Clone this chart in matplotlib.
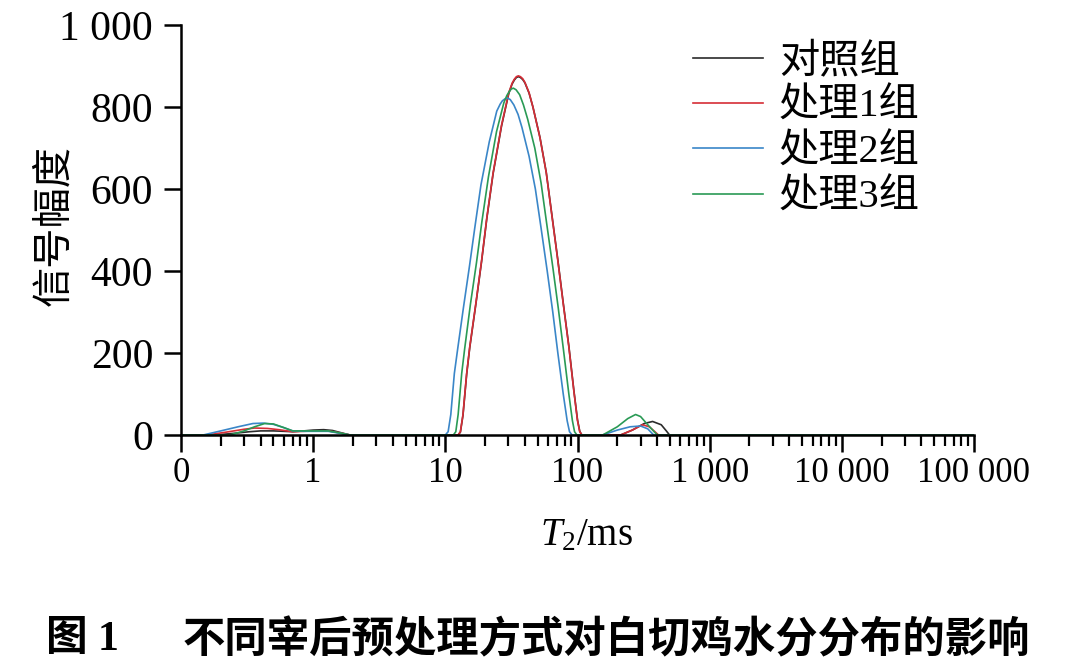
import matplotlib
matplotlib.use("Agg")
import matplotlib.pyplot as plt
from matplotlib.ticker import LogLocator, NullFormatter, FixedLocator, FixedFormatter

plt.rcParams['font.family'] = ['Liberation Serif', 'Noto Sans CJK SC', 'DejaVu Sans']
plt.rcParams['mathtext.fontset'] = 'custom'
plt.rcParams['mathtext.rm'] = 'Liberation Serif'
plt.rcParams['mathtext.it'] = 'Liberation Serif:italic'

# ---------------- data ----------------
labels = ['对照组', '处理1组', '处理2组', '处理3组']
colors = ['#2b2b2b', '#d62d36', '#3a86c8', '#2a9a55']

t2_ctrl = [0.1, 0.18, 0.25, 0.33, 0.4, 0.5, 0.6, 0.7, 0.85, 1.0, 1.2, 1.4, 1.65, 1.9,
           12.5, 13.0, 13.6, 14.5, 15.3, 17.0, 18.8, 20.6, 23.0, 26.6, 30.2, 32.0, 33.3,
           34.5, 35.7, 37.0, 38.5, 40.0, 43.0, 46.0, 52.0, 58.0, 64.0, 71.0, 78.0, 86.0,
           94.0, 100.0, 104.0, 108.0,
           212, 260, 320, 370, 430, 470, 497, 100000]
amp_ctrl = [0, 0, 4, 8, 10, 10, 9, 8, 10, 12, 13, 11, 5, 0,
            0, 7, 48, 148, 213, 318, 423, 528, 638, 753, 833, 856, 866,
            872, 874, 872, 867, 859, 834, 800, 726, 641, 537, 427, 322, 217,
            107, 37, 9, 0,
            0, 12, 28, 33, 25, 10, 0, 0]

t2_t1 = [0.1, 0.157, 0.22, 0.3, 0.36, 0.45, 0.55, 0.7, 0.85, 1.0, 1.3, 1.6, 1.9,
         12.5, 13.0, 13.6, 14.5, 15.3, 17.0, 18.8, 20.6, 23.0, 26.6, 30.2, 32.0, 33.3,
         34.5, 35.7, 37.0, 38.5, 40.0, 43.0, 46.0, 52.0, 58.0, 64.0, 71.0, 78.0, 86.0,
         94.0, 100.0, 104.0, 108.0,
         212, 260, 310, 350, 385, 410, 100000]
amp_t1 = [0, 0, 7, 14, 17, 16, 13, 8, 9, 10, 10, 5, 0,
          0, 8, 50, 150, 215, 320, 425, 530, 640, 755, 835, 858, 868,
          874, 876, 874, 869, 860, 835, 800, 725, 640, 535, 425, 320, 215,
          105, 35, 8, 0,
          0, 12, 25, 20, 8, 0, 0]

t2_t2 = [0.1, 0.147, 0.2, 0.27, 0.35, 0.42, 0.5, 0.6, 0.7, 0.85, 1.0, 1.3, 1.6, 1.9,
         10.0, 10.5, 11.0, 11.7, 12.4, 13.7, 15.2, 16.7, 18.6, 21.5, 24.5, 26.0, 27.0,
         28.3, 29.5, 31.0, 33.0, 35.5, 38.0, 43.0, 48.0, 53.0, 59.0, 65.0, 71.0, 78.0,
         83.5, 87.0, 91.0,
         155, 200, 250, 300, 340, 377, 100000]
amp_t2 = [0, 0, 10, 20, 28, 29, 26, 18, 10, 9, 9, 9, 4, 0,
          0, 8, 50, 150, 210, 310, 410, 505, 610, 715, 790, 807, 815,
          820, 822, 818, 805, 782, 750, 680, 600, 505, 400, 300, 200, 100,
          35, 8, 0,
          0, 12, 20, 22, 15, 0, 0]

t2_t3 = [0.1, 0.235, 0.3, 0.36, 0.43, 0.5, 0.6, 0.7, 0.85, 1.0, 1.3, 1.6, 1.9,
         11.5, 12.0, 12.5, 13.3, 14.0, 15.5, 17.2, 18.9, 21.2, 24.4, 27.7, 29.2, 30.5,
         31.6, 32.7, 34.3, 36.5, 39.0, 42.0, 47.5, 53.0, 58.5, 65.0, 71.5, 78.5, 86.0,
         91.5, 95.0, 99.0,
         155, 200, 240, 275, 300, 340, 380, 403, 100000]
amp_t3 = [0, 0, 10, 20, 28, 27, 18, 10, 10, 10, 10, 5, 0,
          0, 8, 50, 150, 210, 320, 420, 520, 630, 740, 810, 828, 838,
          844, 846, 842, 830, 805, 770, 700, 615, 515, 410, 310, 205, 100,
          35, 8, 0,
          0, 20, 40, 50, 45, 25, 8, 0, 0]

xticks = [0.1, 1, 10, 100, 1000, 10000, 100000]
xtick_labels = ['0', '1', '10', '100', '1 000', '10 000', '100 000']
yticks = [0, 200, 400, 600, 800, 1000]
ytick_labels = ['0', '200', '400', '600', '800', '1 000']

xlabel = r'$\mathit{T}_2$/ms'
ylabel = '信号幅度'
caption_no = '图 1'
caption = '不同宰后预处理方式对白切鸡水分分布的影响'

# ---------------- figure ----------------
W, H = 1080, 672
fig = plt.figure(figsize=(W / 100, H / 100), dpi=100)
ax = fig.add_axes([181 / W, 1 - 435 / H, (974 - 181) / W, (435 - 25) / H])

series = [(t2_ctrl, amp_ctrl), (t2_t1, amp_t1), (t2_t2, amp_t2), (t2_t3, amp_t3)]
for (x, y), lab, c in zip(series, labels, colors):
    ax.plot(x, y, color=c, lw=1.2, label=lab, solid_joinstyle='round')

ax.set_xscale('log')
ax.set_xlim(0.1, 100000)
ax.set_ylim(0, 1000)

ax.xaxis.set_major_locator(FixedLocator(xticks))
ax.xaxis.set_major_formatter(FixedFormatter(xtick_labels))
ax.xaxis.set_minor_locator(LogLocator(base=10, subs=range(2, 10), numticks=20))
ax.xaxis.set_minor_formatter(NullFormatter())
ax.set_yticks(yticks)
ax.set_yticklabels(ytick_labels)

for s in ['top', 'right']:
    ax.spines[s].set_visible(False)
for s in ['left', 'bottom']:
    ax.spines[s].set_linewidth(1.8)

ax.tick_params(axis='both', which='major', direction='out', length=12, width=1.8, color='black')
ax.tick_params(axis='x', which='minor', direction='out', length=8, width=1.6)
ax.tick_params(axis='x', which='major', labelsize=25, pad=4)
ax.tick_params(axis='y', which='major', labelsize=30, pad=8)

leg = ax.legend(loc='upper left', bbox_to_anchor=(693 / W, 1 - 43 / H),
                bbox_transform=fig.transFigure, frameon=False, fontsize=29,
                handlelength=1.75, handletextpad=0.38, labelspacing=0.2,
                borderpad=0, borderaxespad=0)
for line in leg.get_lines():
    line.set_linewidth(1.2)

fig.text(586 / W, 1 - 536 / H, xlabel, fontsize=28, ha='center', va='center')
fig.text(54 / W, 1 - 225 / H, ylabel, fontsize=29, rotation=90, ha='center', va='center',
         family=['Noto Sans CJK SC'])
fig.text(46 / W, 1 - 640 / H, caption_no, fontsize=30, fontweight='bold', ha='left', va='center',
         family=['Liberation Serif', 'Noto Sans CJK SC'])
fig.text(183 / W, 1 - 640 / H, caption, fontsize=30.5, fontweight='bold', ha='left', va='center',
         family=['Noto Sans CJK SC'])

fig.savefig('out.png', dpi=100)
